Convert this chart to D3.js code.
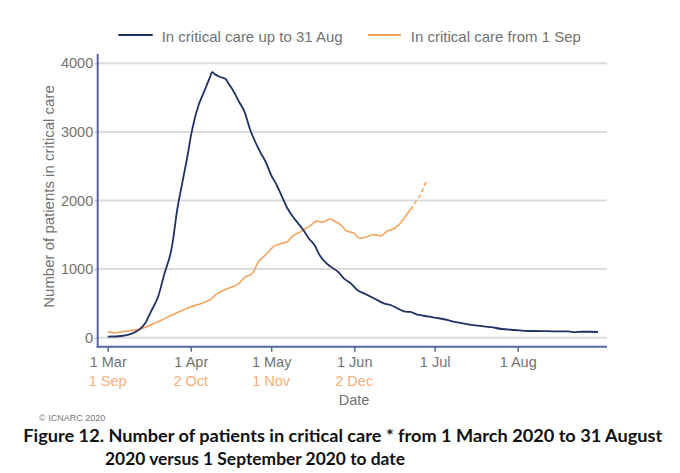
<!DOCTYPE html>
<html><head><meta charset="utf-8">
<script src="https://cdn.jsdelivr.net/npm/d3@7"></script>
<style>body{margin:0;background:#fff} svg{display:block}</style>
</head><body><svg id="c" width="680" height="473"></svg>
<script>
// Day offsets from 1 March 2020 (blue) and from 1 September 2020 (orange)
const upToAugDay = [0,5,9,11.5,14,16,19,21,24,26,28,30,31,32.5,34,36,38,39,40,42,44,45,47,49,51,53,55,57,59,61,63,65,67,69,71,73,75,77.5,79,81,83,86,88,91,93,96,98,101,103,106,108,111,113,115,118,121,124,127,129,133,138,143,147,152,157,162,167,172,174,177,180,183];
const upToAugCount = [15,25,60,110,210,370,620,910,1330,1880,2290,2700,2930,3200,3400,3590,3780,3870,3840,3800,3770,3710,3590,3440,3300,3050,2860,2700,2560,2370,2230,2060,1890,1770,1670,1570,1450,1330,1210,1110,1040,960,870,780,700,640,600,540,500,470,430,380,375,345,320,300,280,255,235,205,175,155,127,112,98,97,92,92,80,87,87,83];
const fromSepDay = [0,3,5,9,13,16,20,24,28,31,35,38,41,45,49,51,54,56,59,62,65,67,69,72,73,76,78,80,82,83,85,87,89,92,94,97,99,102,104,107,109,111,113];
const fromSepCount = [85,72,85,105,135,185,255,330,400,450,500,550,645,720,790,875,940,1090,1210,1330,1375,1400,1480,1545,1570,1645,1700,1685,1715,1730,1690,1645,1560,1520,1450,1475,1500,1485,1545,1595,1660,1765,1865];
const fromSepProvDay = [113,115,117,119];
const fromSepProvCount = [1865,1985,2105,2300];

const tickDays = [0,31,61,92,122,153];
const tickLabelsSpring = ["1 Mar","1 Apr","1 May","1 Jun","1 Jul","1 Aug"];
const tickLabelsAutumn = ["1 Sep","2 Oct","1 Nov","2 Dec"];
const yTicks = [0,1000,2000,3000,4000];
const legendLabels = ["In critical care up to 31 Aug","In critical care from 1 Sep"];
const yTitle = "Number of patients in critical care";
const xTitle = "Date";
const credit = "© ICNARC 2020";
const captionLines = ["Figure 12. Number of patients in critical care * from 1 March 2020 to 31 August","2020 versus 1 September 2020 to date"];

const NAVY = "#1f3265", ORANGE = "#f2a35c", ORANGE_TXT = "#f4af77", GRAY = "#727272", GRID = "#dcdcdc", AXIS = "#5468a0";
const FONT = "'Liberation Sans', Arial, Helvetica, sans-serif";

const svg = d3.select("#c");
const left = 97.7, right = 607, bottomAxis = 346.7;
const x = d3.scaleLinear().domain([0,153]).range([107.7,517.7]);
const y = d3.scaleLinear().domain([0,4000]).range([337.7,63.3]);

// gridlines
svg.append("g").selectAll("line").data(yTicks).join("line")
  .attr("x1", left).attr("x2", right)
  .attr("y1", d => y(d)).attr("y2", d => y(d))
  .attr("stroke", GRID).attr("stroke-width", 2);

// y axis
const ya = svg.append("g").attr("transform", `translate(${left},0)`)
  .call(d3.axisLeft(y).tickValues(yTicks).tickSize(3).tickPadding(1.5).tickFormat(d3.format("d")));
ya.select(".domain").remove();
ya.selectAll(".tick line").attr("stroke", "#9aa6c4");
ya.selectAll("text").attr("fill", GRAY).style("font", `14.5px ${FONT}`);
svg.append("line").attr("x1", left).attr("x2", left).attr("y1", 54).attr("y2", bottomAxis + 1)
  .attr("stroke", AXIS).attr("stroke-width", 2);

// x axis
const xa = svg.append("g").attr("transform", `translate(0,${bottomAxis})`)
  .call(d3.axisBottom(x).tickValues(tickDays).tickSize(5).tickPadding(4.7).tickFormat((d,i) => tickLabelsSpring[i]));
xa.select(".domain").remove();
xa.selectAll(".tick line").attr("stroke", AXIS).attr("stroke-width", 1.5);
xa.selectAll("text").attr("fill", GRAY).style("font", `14.5px ${FONT}`);
svg.append("line").attr("x1", left - 1).attr("x2", right).attr("y1", bottomAxis).attr("y2", bottomAxis)
  .attr("stroke", AXIS).attr("stroke-width", 2);

svg.append("g").selectAll("text").data(tickLabelsAutumn).join("text")
  .attr("x", (d,i) => x(tickDays[i])).attr("y", 386)
  .attr("text-anchor", "middle").attr("fill", ORANGE_TXT).style("font", `14.5px ${FONT}`)
  .text(d => d);

svg.append("text").attr("x", 354).attr("y", 405).attr("text-anchor", "middle")
  .attr("fill", GRAY).style("font", `14.5px ${FONT}`).text(xTitle);

svg.append("text").attr("transform", "translate(53.5,196.5) rotate(-90)").attr("text-anchor", "middle")
  .attr("fill", GRAY).style("font", `15px ${FONT}`).text(yTitle);

// lines
const line = d3.line().curve(d3.curveMonotoneX).x(d => x(d[0])).y(d => y(d[1]));
svg.append("path").datum(d3.zip(fromSepDay, fromSepCount)).attr("d", line)
  .attr("fill", "none").attr("stroke", ORANGE).attr("stroke-width", 1.6).attr("stroke-linejoin", "round");
svg.append("path").datum(d3.zip(fromSepProvDay, fromSepProvCount)).attr("d", line)
  .attr("fill", "none").attr("stroke", ORANGE).attr("stroke-width", 1.6).attr("stroke-dasharray", "4,3");
svg.append("path").datum(d3.zip(upToAugDay, upToAugCount)).attr("d", line)
  .attr("fill", "none").attr("stroke", NAVY).attr("stroke-width", 1.8).attr("stroke-linejoin", "round");

// legend
const legend = [{x1:118.3, x2:152.7, tx:161.7, c:NAVY}, {x1:368, x2:401, tx:410.8, c:ORANGE}];
legend.forEach((l,i) => {
  svg.append("line").attr("x1", l.x1).attr("x2", l.x2).attr("y1", 35).attr("y2", 35)
    .attr("stroke", l.c).attr("stroke-width", 2);
  svg.append("text").attr("x", l.tx).attr("y", 41.5).attr("fill", GRAY)
    .style("font", `15px ${FONT}`).text(legendLabels[i]);
});

// credit and caption
svg.append("text").attr("x", 39).attr("y", 420.5).attr("fill", "#777").style("font", `9px ${FONT}`).text(credit);
const capX = [23.3, 105], capY = [441.7, 465], capW = [639, 300];
captionLines.forEach((t,i) => {
  svg.append("text").attr("x", capX[i]).attr("y", capY[i]).attr("fill", "#111")
    .attr("textLength", capW[i]).attr("lengthAdjust", "spacingAndGlyphs")
    .style("font", "bold 16.5px Lato, 'Open Sans', sans-serif").text(t);
});
</script></body></html>
